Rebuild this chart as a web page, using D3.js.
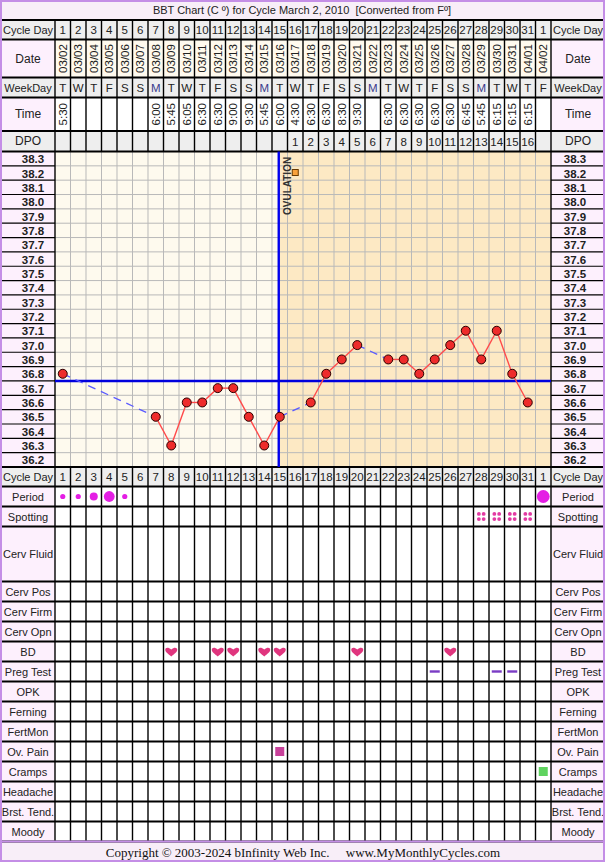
<!DOCTYPE html>
<html>
<head>
<meta charset="utf-8">
<script src="https://cdn.jsdelivr.net/npm/d3@7"></script>
<style>
  body { margin: 0; background: #fff; }
  svg { display: block; font-family: "Liberation Sans", Arial, sans-serif; }
</style>
</head>
<body>
<div id="chart"></div>
<script>
// ---- data ----
const cycleDays = ["1","2","3","4","5","6","7","8","9","10","11","12","13","14","15","16",
  "17","18","19","20","21","22","23","24","25","26","27","28","29","30","31","1"];
const dates = ["03/02","03/03","03/04","03/05","03/06","03/07","03/08","03/09","03/10","03/11",
  "03/12","03/13","03/14","03/15","03/16","03/17","03/18","03/19","03/20","03/21","03/22",
  "03/23","03/24","03/25","03/26","03/27","03/28","03/29","03/30","03/31","04/01","04/02"];
const weekDays = ["T","W","T","F","S","S","M","T","W","T","F","S","S","M","T","W",
  "T","F","S","S","M","T","W","T","F","S","S","M","T","W","T","F"];
const times = ["5:30","","","","","","6:00","5:45","6:05","6:30","6:30","9:00","9:30","5:45","6:00","4:30",
  "6:30","6:30","8:30","9:30","","6:30","6:30","6:30","6:30","6:30","6:45","5:45","6:15","6:15","6:15",""];
const dpo = ["","","","","","","","","","","","","","","","1",
  "2","3","4","5","6","7","8","9","10","11","12","13","14","15","16",""];
const temps = [36.8,null,null,null,null,null,36.5,36.3,36.6,36.6,36.7,36.7,36.5,36.3,36.5,null,
  36.6,36.8,36.9,37.0,null,36.9,36.9,36.8,36.9,37.0,37.1,36.9,37.1,36.8,36.6,null];
const tempTicks = [38.3,38.2,38.1,38.0,37.9,37.8,37.7,37.6,37.5,37.4,37.3,37.2,37.1,37.0,
  36.9,36.8,36.7,36.6,36.5,36.4,36.3,36.2];
const coverline = 36.75;
const ovulationDay = 15;           // cycle day index + 1
const period = [1,1,2,3,1,0,0,0,0,0,0,0,0,0,0,0,0,0,0,0,0,0,0,0,0,0,0,0,0,0,0,3];
const spottingDays = [28,29,30,31];
const bdDays = [8,11,12,14,15,20,26];
const pregTestDays = [25,29,30];
const ovPainDays = [15];
const crampsDays = [32];
const rowLabels = ["Period","Spotting","Cerv Fluid","Cerv Pos","Cerv Firm","Cerv Opn","BD",
  "Preg Test","OPK","Ferning","FertMon","Ov. Pain","Cramps","Headache","Brst. Tend.","Moody"];

// ---- layout ----
const W = 605, H = 862;
const gridL = 55, gridR = 551;
const chartTop = 151.5, chartBot = 467;

const svg = d3.select("#chart").append("svg")
  .attr("width", W).attr("height", H);

const x = d3.scaleBand().domain(d3.range(cycleDays.length)).range([gridL, gridR]);
const bw = x.bandwidth();
const cx = i => x(i) + bw / 2;
const y = d3.scaleLinear().domain([38.35, 36.15]).range([chartTop, chartBot]);

// header rows
const headRows = [
  { label: "Cycle Day", vals: cycleDays, y0: 20, y1: 39.5, lab: "#eeeeee", cell: "#eeeeee", rot: false },
  { label: "Date", vals: dates, y0: 39.5, y1: 77.5, lab: "#fdf0fd", cell: "#fffaee", rot: true },
  { label: "WeekDay", vals: weekDays, y0: 77.5, y1: 97.5, lab: "#eeeeee", cell: "#eeeeee", rot: false },
  { label: "Time", vals: times, y0: 97.5, y1: 131, lab: "#fdf0fd", cell: "#ffffff", rot: true },
  { label: "DPO", vals: dpo, y0: 131, y1: 151.5, lab: "#eeeeee", cell: "#eeeeee", rot: false }
];

// bottom rows
const botRows = [{ label: "Cycle Day", vals: cycleDays, y0: 467, y1: 486.5, lab: "#eeeeee", cell: "#eeeeee" }];
let yy = 486.5;
rowLabels.forEach(l => {
  const h = l === "Cerv Fluid" ? 55 : 20;
  botRows.push({ label: l, y0: yy, y1: yy + h, lab: "#fdf0fd", cell: "#ffffff" });
  yy += h;
});
const rowOf = l => botRows.find(r => r.label === l);
const midY = r => (r.y0 + r.y1) / 2;

// title and footer
svg.append("rect").attr("x", 0).attr("y", 0).attr("width", W).attr("height", 20).attr("fill", "#f8eef8");
svg.append("text").attr("x", 302).attr("y", 14).attr("text-anchor", "middle")
  .attr("font-size", 11).attr("fill", "#222").attr("xml:space", "preserve")
  .text("BBT Chart (C º) for Cycle March 2, 2010  [Converted from Fº]");

svg.append("rect").attr("x", 0).attr("y", 841.5).attr("width", W).attr("height", 20.5).attr("fill", "#f8eef8");
svg.append("text").attr("x", 303).attr("y", 857).attr("text-anchor", "middle")
  .attr("font-family", "'Liberation Serif', 'Times New Roman', serif")
  .attr("font-size", 13).attr("fill", "#111").attr("xml:space", "preserve")
  .text("Copyright © 2003-2024 bInfinity Web Inc.     www.MyMonthlyCycles.com");

// cells backgrounds for table rows
function drawRows(rows) {
  rows.forEach(r => {
    svg.append("rect").attr("x", 0).attr("y", r.y0).attr("width", gridL).attr("height", r.y1 - r.y0).attr("fill", r.lab);
    svg.append("rect").attr("x", gridR).attr("y", r.y0).attr("width", W - gridR).attr("height", r.y1 - r.y0).attr("fill", r.lab);
    svg.append("rect").attr("x", gridL).attr("y", r.y0).attr("width", gridR - gridL).attr("height", r.y1 - r.y0).attr("fill", r.cell);
  });
}
drawRows(headRows);
drawRows(botRows);

// chart background
svg.append("rect").attr("x", 0).attr("y", chartTop).attr("width", gridL).attr("height", chartBot - chartTop).attr("fill", "#fdf0fd");
svg.append("rect").attr("x", gridR).attr("y", chartTop).attr("width", W - gridR).attr("height", chartBot - chartTop).attr("fill", "#fdf0fd");
const ovX = cx(ovulationDay - 1) - 1;
svg.append("rect").attr("x", gridL).attr("y", chartTop).attr("width", ovX - gridL).attr("height", chartBot - chartTop).attr("fill", "#fefaee");
svg.append("rect").attr("x", ovX).attr("y", chartTop).attr("width", gridR - ovX).attr("height", chartBot - chartTop).attr("fill", "#fde9c4");

// chart grid
const grid = svg.append("g").attr("stroke", "#b9b9b9").attr("stroke-width", 1);
d3.range(1, cycleDays.length).forEach(i => {
  grid.append("line").attr("x1", x(i)).attr("x2", x(i)).attr("y1", chartTop).attr("y2", chartBot);
});
tempTicks.slice(1).forEach(t => {
  grid.append("line").attr("x1", gridL).attr("x2", gridR).attr("y1", y(t + 0.05)).attr("y2", y(t + 0.05));
});
tempTicks.slice(1).forEach(t => {
  [[0, gridL], [gridR, W]].forEach(([a, b]) => {
    svg.append("line").attr("x1", a).attr("x2", b).attr("y1", y(t + 0.05)).attr("y2", y(t + 0.05))
      .attr("stroke", "#000").attr("stroke-width", 1.2);
  });
});
[[33, tempTicks], [575, tempTicks]].forEach(([tx, ticks]) => {
  svg.append("g").selectAll("text").data(ticks).join("text")
    .attr("x", tx).attr("y", d => y(d) + 4.5).attr("text-anchor", "middle")
    .attr("font-size", 11.5).attr("font-weight", "bold").attr("fill", "#222")
    .text(d => d.toFixed(1));
});

// table grid lines
function tableLines(y0, y1, rows) {
  const g = svg.append("g").attr("stroke", "#000");
  d3.range(0, cycleDays.length + 1).forEach(i => {
    const xx = i === cycleDays.length ? gridR : x(i);
    g.append("line").attr("x1", xx).attr("x2", xx).attr("y1", y0).attr("y2", y1).attr("stroke-width", 1.4);
  });
  rows.forEach(r => {
    g.append("line").attr("x1", 0).attr("x2", W).attr("y1", r.y0).attr("y2", r.y0).attr("stroke-width", 2.2);
  });
  g.append("line").attr("x1", 0).attr("x2", W).attr("y1", y1).attr("y2", y1).attr("stroke-width", 2);
}
tableLines(20, chartTop, headRows);
tableLines(chartBot, 841.5, botRows);
svg.append("line").attr("x1", gridL).attr("x2", gridL).attr("y1", chartTop).attr("y2", chartBot).attr("stroke", "#000").attr("stroke-width", 1.4);
svg.append("line").attr("x1", gridR).attr("x2", gridR).attr("y1", chartTop).attr("y2", chartBot).attr("stroke", "#000").attr("stroke-width", 1.4);

// row labels
function rowText(rows) {
  rows.forEach(r => {
    const fs = r.label === "Date" || r.label === "Time" || r.label === "DPO" ? 12 : 11;
    svg.append("text").attr("x", 28).attr("y", midY(r) + 4).attr("text-anchor", "middle")
      .attr("font-size", fs).attr("fill", "#222").text(r.label);
    svg.append("text").attr("x", 578).attr("y", midY(r) + 4).attr("text-anchor", "middle")
      .attr("font-size", fs).attr("fill", "#222")
      .attr("clip-path", "url(#rclip)").text(r.label);
  });
}
svg.append("clipPath").attr("id", "rclip").append("rect").attr("x", gridR + 1).attr("y", 0).attr("width", W - gridR - 2).attr("height", H);
rowText(headRows);
rowText(botRows);

// header values
headRows.concat([botRows[0]]).forEach(r => {
  const g = svg.append("g").attr("font-size", r.rot ? 11.5 : 11.5);
  g.selectAll("text").data(r.vals).join("text")
    .attr("text-anchor", "middle")
    .attr("fill", (d, i) => r.label === "WeekDay" && d === "M" ? "#3a3a8c" : "#222")
    .attr("transform", (d, i) => r.rot
      ? `translate(${cx(i) + 4},${midY(r)}) rotate(-90)`
      : `translate(${cx(i)},${midY(r) + 4.3})`)
    .text(d => d);
});

// ovulation and coverline
svg.append("line").attr("x1", ovX).attr("x2", ovX).attr("y1", chartTop).attr("y2", chartBot)
  .attr("stroke", "#0000ee").attr("stroke-width", 2.4);
svg.append("line").attr("x1", gridL).attr("x2", gridR).attr("y1", y(coverline)).attr("y2", y(coverline))
  .attr("stroke", "#0000dd").attr("stroke-width", 2.4);
svg.append("text").attr("transform", `translate(${ovX + 12},${215}) rotate(-90)`)
  .attr("font-size", 10).attr("font-weight", "bold").attr("fill", "#333").text("OVULATION");
svg.append("rect").attr("x", cx(ovulationDay) - 3).attr("y", y(38.2) - 3.5).attr("width", 6).attr("height", 6)
  .attr("fill", "#f9a23c").attr("stroke", "#6a3a00").attr("stroke-width", 1);

// temperature line: solid between consecutive days, dashed across gaps
const pts = temps.map((t, i) => ({ i, t })).filter(d => d.t !== null);
for (let k = 1; k < pts.length; k++) {
  const a = pts[k - 1], b = pts[k];
  const gap = b.i - a.i > 1;
  svg.append("line")
    .attr("x1", cx(a.i)).attr("y1", y(a.t)).attr("x2", cx(b.i)).attr("y2", y(b.t))
    .attr("stroke", gap ? "#5a5aff" : "#ff4a4a").attr("stroke-width", gap ? 1.3 : 1.4)
    .attr("stroke-dasharray", gap ? "8,6" : null);
}
svg.append("g").selectAll("circle").data(pts).join("circle")
  .attr("cx", d => cx(d.i)).attr("cy", d => y(d.t)).attr("r", 4.5)
  .attr("fill", "#ee2b2b").attr("stroke", "#2a0000").attr("stroke-width", 1);

// period
const pr = [0, 2.6, 4, 5.4];
svg.append("g").selectAll("circle").data(period.map((p, i) => ({ p, i })).filter(d => d.p > 0)).join("circle")
  .attr("cx", d => cx(d.i)).attr("cy", midY(rowOf("Period"))).attr("r", d => pr[d.p] + (d.i === 31 ? 1 : 0))
  .attr("fill", "#e41ee4");

// spotting
spottingDays.forEach(dd => {
  [[-2.4, -2.6], [2.4, -2.6], [-2.4, 2.6], [2.4, 2.6]].forEach(([dx, dy]) => {
    svg.append("circle").attr("cx", cx(dd - 1) + dx).attr("cy", midY(rowOf("Spotting")) + dy)
      .attr("r", 1.9).attr("fill", "#e33aa3");
  });
});

// BD hearts
const heart = "M0,4.5 C-3,2 -6,0 -6,-2.2 C-6,-4.6 -3,-5.2 0,-2.4 C3,-5.2 6,-4.6 6,-2.2 C6,0 3,2 0,4.5Z";
svg.append("g").selectAll("path").data(bdDays).join("path")
  .attr("transform", d => `translate(${cx(d - 1)},${midY(rowOf("BD")) + 0.5})`)
  .attr("d", heart).attr("fill", "#e0357e");

// preg test
svg.append("g").selectAll("line").data(pregTestDays).join("line")
  .attr("x1", d => cx(d - 1) - 5).attr("x2", d => cx(d - 1) + 5)
  .attr("y1", midY(rowOf("Preg Test"))).attr("y2", midY(rowOf("Preg Test")))
  .attr("stroke", "#7a3cc4").attr("stroke-width", 2.4);

// ov pain / cramps
svg.append("g").selectAll("rect").data(ovPainDays).join("rect")
  .attr("x", d => cx(d - 1) - 4.5).attr("y", midY(rowOf("Ov. Pain")) - 4.5).attr("width", 9).attr("height", 9)
  .attr("fill", "#c8419a");
svg.append("g").selectAll("rect").data(crampsDays).join("rect")
  .attr("x", d => cx(d - 1) - 4.5).attr("y", midY(rowOf("Cramps")) - 4.5).attr("width", 9).attr("height", 9)
  .attr("fill", "#5fd35f");

// outer border
svg.append("rect").attr("x", 1).attr("y", 1).attr("width", W - 2).attr("height", H - 2)
  .attr("fill", "none").attr("stroke", "#c48ee6").attr("stroke-width", 2);
svg.append("line").attr("x1", 0).attr("x2", W).attr("y1", 841.5).attr("y2", 841.5).attr("stroke", "#c48ee6").attr("stroke-width", 2);
</script>
</body>
</html>
